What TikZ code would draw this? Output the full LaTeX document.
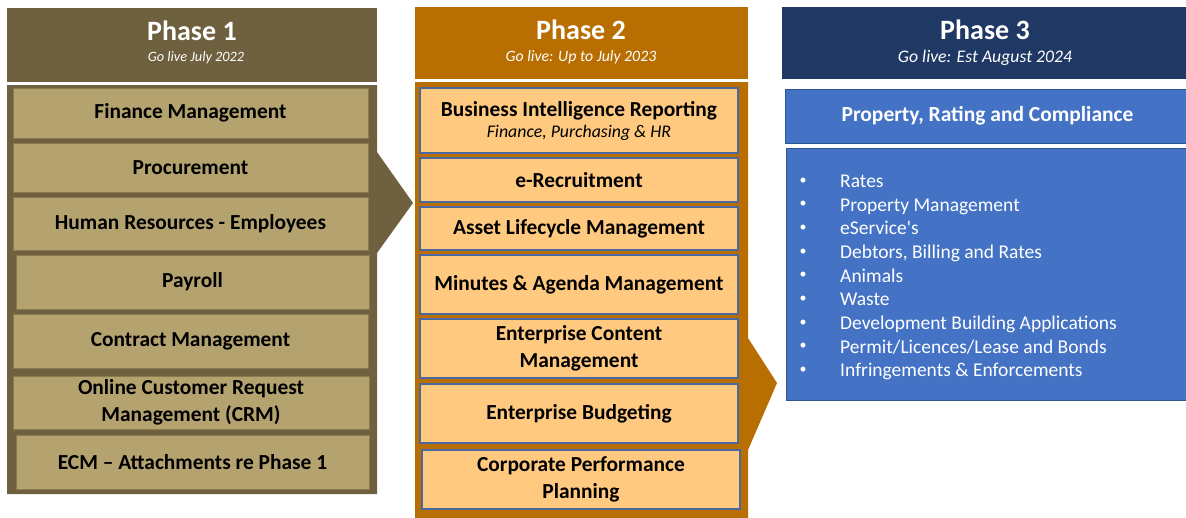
\documentclass[tikz,border=0pt]{standalone}
\usepackage{fontspec}
\setmainfont{Carlito}
\definecolor{pOneDark}{HTML}{6F6140}
\definecolor{pOneItem}{HTML}{B5A36F}
\definecolor{pOneLine}{HTML}{8A7A50}
\definecolor{pTwoDark}{HTML}{B86E00}
\definecolor{pTwoItem}{HTML}{FFCA80}
\definecolor{pTwoLine}{HTML}{4A68A0}
\definecolor{pThreeDark}{HTML}{203864}
\definecolor{pThreeBlue}{HTML}{4472C4}
\definecolor{pThreeLine}{HTML}{2F5597}
\begin{document}
\begin{tikzpicture}[x=1pt,y=-1pt,
  headbox/.style={fill=#1, draw=none, inner sep=0, anchor=center},
  titletxt/.style={text=white, font=\bfseries\fontsize{28}{30}\selectfont, inner sep=0},
  subtxt/.style={text=white, font=\itshape\fontsize{#1}{18}\selectfont, inner sep=0},
  oneitem/.style={fill=pOneItem, draw=pOneLine, line width=1pt, inner sep=0, align=center,
     font=\bfseries\fontsize{21.4}{27}\selectfont},
  twoitem/.style={fill=pTwoItem, draw=pTwoLine, line width=1.2pt, inner sep=0, align=center,
     font=\bfseries\fontsize{21.4}{27}\selectfont},
  bulletmark/.style={text=white, font=\fontsize{14}{16}\selectfont, inner sep=0},
  listtxt/.style={text=white, font=\fontsize{19.5}{22}\selectfont, inner sep=0, anchor=base west},
]
\useasboundingbox (0,0) rectangle (1186,517);
\fill[white] (0,0) rectangle (1186,517);

% ---------- Phase 1 ----------
\node[headbox=pOneDark, minimum width=370pt, minimum height=74pt] (h1) at (192,45) {};
\node[titletxt] (h1t) at (192,31) {Phase 1};
\node[subtxt=14.3] (h1s) at (196,58) {Go live July 2022};
\fill[pOneDark] (7,85) -- (377,85) -- (377,152) -- (413,203) -- (377,253) -- (377,494) -- (7,494) -- cycle;
\node[oneitem, minimum width=355pt, minimum height=50pt] (a1) at (190.5,113) {Finance Management};
\node[oneitem, minimum width=355pt, minimum height=49pt] (a2) at (190.5,167.5) {Procurement};
\node[oneitem, minimum width=355pt, minimum height=53pt] (a3) at (190.5,223.5) {Human Resources - Employees};
\node[oneitem, minimum width=353pt, minimum height=54pt] (a4) at (192.5,282) {Payroll};
\node[oneitem, minimum width=355pt, minimum height=54pt] (a5) at (190.5,341) {Contract Management};
\node[oneitem, minimum width=356pt, minimum height=53pt] (a6) at (191,402.5) {Online Customer Request\\Management (CRM)};
\node[oneitem, minimum width=353pt, minimum height=54pt] (a7) at (192.5,462) {ECM -- Attachments re Phase 1};

% ---------- Phase 2 ----------
\node[headbox=pTwoDark, minimum width=333pt, minimum height=72pt] (h2) at (581.5,43) {};
\node[titletxt] (h2t) at (581,30) {Phase 2};
\node[subtxt=15.8] (h2s) at (581,57) {Go live: Up to July 2023};
\fill[pTwoDark] (415,82) -- (748,82) -- (748,338) -- (777,383) -- (748,450) -- (748,520) -- (415,520) -- cycle;
\node[twoitem, minimum width=318pt, minimum height=65pt] (b1) at (579,120.5) {Business Intelligence Reporting\\[-6pt]{\mdseries\itshape\fontsize{17.8}{19}\selectfont Finance, Purchasing \& HR}};
\node[twoitem, minimum width=318pt, minimum height=44pt] (b2) at (579,180) {e-Recruitment};
\node[twoitem, minimum width=318pt, minimum height=43pt] (b3) at (579,228.5) {Asset Lifecycle Management};
\node[twoitem, minimum width=318pt, minimum height=59pt] (b4) at (579,284.5) {Minutes \& Agenda Management};
\node[twoitem, minimum width=318pt, minimum height=59pt] (b5) at (579,348.5) {Enterprise Content\\Management};
\node[twoitem, minimum width=318pt, minimum height=59pt] (b6) at (579,413.5) {Enterprise Budgeting};
\node[twoitem, minimum width=318pt, minimum height=59pt] (b7) at (581,479.5) {Corporate Performance\\Planning};

% ---------- Phase 3 ----------
\node[headbox=pThreeDark, minimum width=408pt, minimum height=72pt] (h3) at (986,43) {};
\node[titletxt] (h3t) at (985,30) {Phase 3};
\node[subtxt=17.7] (h3s) at (985,58) {Go live: Est August 2024};
\node[fill=pThreeBlue, draw=pThreeLine, line width=1pt, minimum width=405pt, minimum height=54pt, inner sep=0,
      text=white, font=\bfseries\fontsize{21.5}{24}\selectfont] (c1) at (987.5,116) {Property, Rating and Compliance};
\node[fill=pThreeBlue, draw=pThreeLine, line width=1pt, minimum width=405pt, minimum height=252pt, inner sep=0] (c2) at (988.5,274) {};
\foreach \t [count=\i from 0] in {Rates, Property Management, eService\textquotesingle s, {Debtors, Billing and Rates}, Animals, Waste, Development Building Applications, Permit/Licences/Lease and Bonds, Infringements \& Enforcements}{
  \node[bulletmark] (cb\i) at (803,{181+23.65*\i}) {•};
  \node[listtxt] (ct\i) at (840,{187.5+23.65*\i}) {\t};
}
\end{tikzpicture}
\end{document}
